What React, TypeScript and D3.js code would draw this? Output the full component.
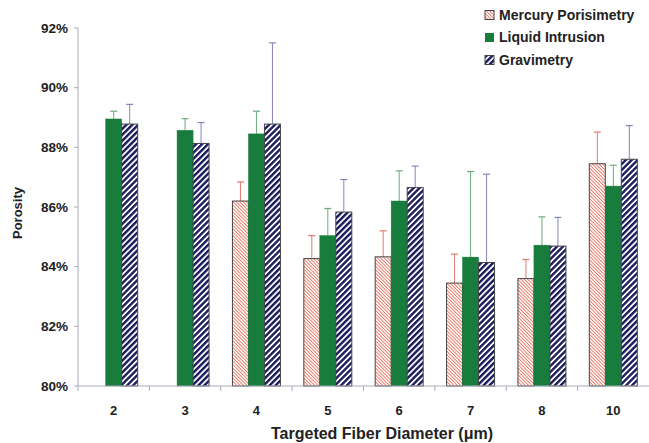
import React from 'react';
import * as d3 from 'd3';

const categories = ['2', '3', '4', '5', '6', '7', '8', '10'];
const seriesNames = ['Mercury Porisimetry', 'Liquid Intrusion', 'Gravimetry'];
// null = not measured
const mercury = [null, null, 86.2, 84.27, 84.33, 83.45, 83.6, 87.45];
const mercuryErr = [null, null, 0.64, 0.77, 0.87, 0.97, 0.64, 1.06];
const liquid = [88.95, 88.57, 88.45, 85.04, 86.2, 84.32, 84.72, 86.7];
const liquidErr = [0.26, 0.39, 0.76, 0.91, 1.01, 2.87, 0.95, 0.7];
const gravimetry = [88.78, 88.13, 88.78, 85.83, 86.65, 84.14, 84.69, 87.6];
const gravimetryErr = [0.66, 0.7, 2.72, 1.09, 0.72, 2.96, 0.96, 1.13];
const yTicks = [80, 82, 84, 86, 88, 90, 92];

const W = 649, H = 443;
const left = 78, right = 649, top = 28, bottom = 386;
const font = '"Liberation Sans", Arial, sans-serif';

const fills = ['url(#pinkHatch)', '#177c3c', 'url(#navyHatch)'];
const strokes = ['#444', '#177c3c', '#444'];
const errColors = ['#e07a70', '#6aab7a', '#8484bb'];

export default function App() {
  const x = d3.scaleBand().domain(categories).range([left, right]).padding(0);
  const inner = d3.scaleBand().domain(['0', '1', '2']).range([0, 48]).padding(0);
  const y = d3.scaleLinear().domain([80, 92]).range([bottom, top]);
  const off = (x.bandwidth() - 48) / 2;
  const vals = [mercury, liquid, gravimetry];
  const errs = [mercuryErr, liquidErr, gravimetryErr];
  const bw = inner.bandwidth();

  return (
    <svg width={W} height={H} style={{ position: 'absolute', left: 0, top: 0 }} fontFamily={font}>
      <defs>
        <pattern id="pinkHatch" patternUnits="userSpaceOnUse" width={2.4} height={2.4} patternTransform="rotate(-45)">
          <rect width={2.4} height={2.4} fill="#fff" />
          <rect width={0.9} height={2.4} fill="#e8705e" />
        </pattern>
        <pattern id="navyHatch" patternUnits="userSpaceOnUse" width={4.2} height={4.2} patternTransform="rotate(45)">
          <rect width={4.2} height={4.2} fill="#fff" />
          <rect width={2.4} height={4.2} fill="#1b1b5e" />
        </pattern>
      </defs>

      {/* y axis */}
      <line x1={left} x2={left} y1={top} y2={bottom} stroke="#aab" />
      {yTicks.map(t => (
        <g key={t}>
          <line x1={left - 4} x2={left} y1={y(t)} y2={y(t)} stroke="#aab" />
          <text x={left - 10} y={y(t)} dy="0.35em" textAnchor="end" fontSize={13.5} fontWeight="bold" fill="#222">
            {t}%
          </text>
        </g>
      ))}
      <text transform={`translate(22,${(top + bottom) / 2 + 6}) rotate(-90)`} textAnchor="middle" fontSize={13} fontWeight="bold" fill="#222">
        Porosity
      </text>

      {/* bars */}
      {categories.map((c, i) => (
        <g key={c}>
          {vals.map((s, k) => {
            const v = s[i];
            if (v == null) return null;
            const bx = (x(c) as number) + off + (inner(String(k)) as number);
            const e = errs[k][i] as number;
            return (
              <g key={k}>
                <line x1={bx + bw / 2} x2={bx + bw / 2} y1={y(v)} y2={y(v + e)} stroke={errColors[k]} />
                <line x1={bx + bw / 2 - 3.5} x2={bx + bw / 2 + 3.5} y1={y(v + e)} y2={y(v + e)} stroke={errColors[k]} strokeWidth={1.2} />
                <rect x={bx} y={y(v)} width={bw} height={bottom - y(v)} fill={fills[k]} stroke={strokes[k]} strokeWidth={k === 1 ? 0.5 : 1} />
              </g>
            );
          })}
        </g>
      ))}

      {/* x axis */}
      <line x1={left} x2={right} y1={bottom} y2={bottom} stroke="#aab" />
      {categories.map(c => (
        <g key={c}>
          <line x1={x(c) as number} x2={x(c) as number} y1={bottom} y2={bottom + 5} stroke="#aab" />
          <text x={(x(c) as number) + x.bandwidth() / 2} y={415} textAnchor="middle" fontSize={13} fontWeight="bold" fill="#222">
            {c}
          </text>
        </g>
      ))}
      <text x={382} y={439} textAnchor="middle" fontSize={16} fontWeight="bold" fill="#222">
        Targeted Fiber Diameter (μm)
      </text>

      {/* legend */}
      {seriesNames.map((n, k) => (
        <g key={n} transform={`translate(485,${10.5 + k * 22.5})`}>
          <rect width={9} height={9} fill={fills[k]} stroke={k === 1 ? 'none' : '#444'} />
          <text x={14} y={4.5} dy="0.35em" fontSize={14} fontWeight="bold" fill="#222">
            {n}
          </text>
        </g>
      ))}
    </svg>
  );
}
